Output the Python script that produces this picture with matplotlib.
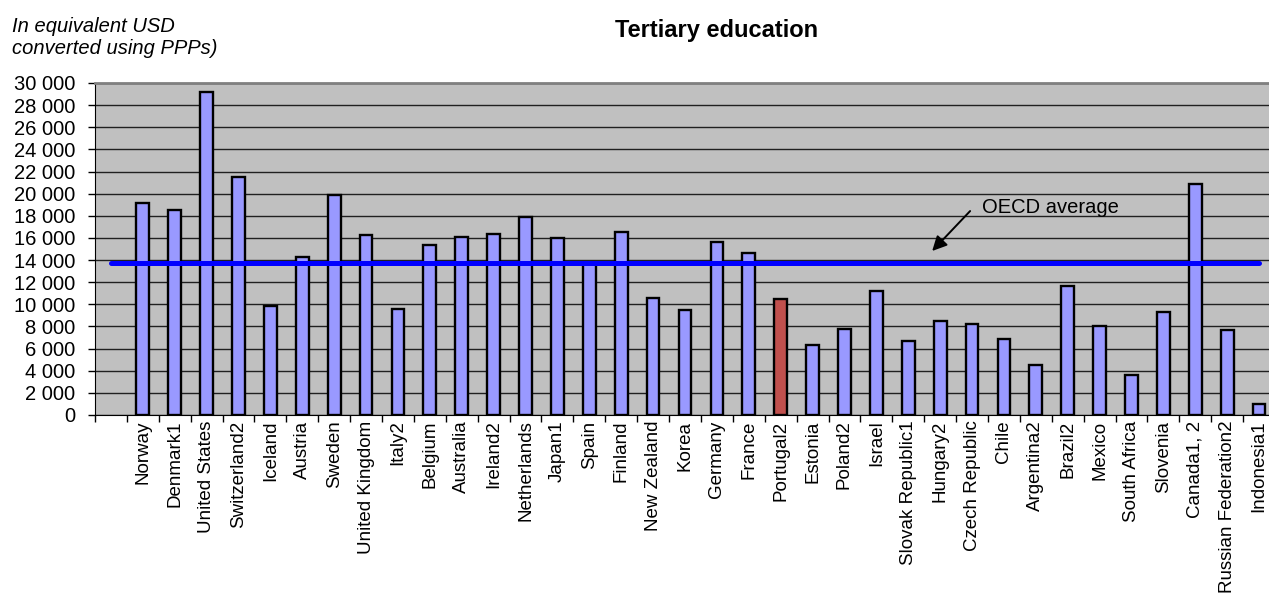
import numpy as np
import matplotlib.pyplot as plt
from matplotlib.ticker import FuncFormatter, FixedLocator

plt.rcParams['font.family'] = ['Liberation Sans', 'DejaVu Sans']

# Data #
countries = ['Norway', 'Denmark1', 'United States', 'Switzerland2', 'Iceland', 'Austria',
             'Sweden', 'United Kingdom', 'Italy2', 'Belgium', 'Australia', 'Ireland2',
             'Netherlands', 'Japan1', 'Spain', 'Finland', 'New Zealand', 'Korea', 'Germany',
             'France', 'Portugal2', 'Estonia', 'Poland2', 'Israel', 'Slovak Republic1',
             'Hungary2', 'Czech Republic', 'Chile', 'Argentina2', 'Brazil2', 'Mexico',
             'South Africa', 'Slovenia', 'Canada1, 2', 'Russian Federation2', 'Indonesia1']
spending = [19200, 18500, 29200, 21550, 9850, 14250, 19900, 16300, 9550, 15400, 16100,
            16400, 17850, 15950, 13600, 16550, 10600, 9500, 15650, 14600, 10450, 6350,
            7750, 11200, 6700, 8500, 8200, 6850, 4550, 11700, 8000, 3600, 9300, 20900,
            7700, 950]
oecd_average = 13700
highlight = 'Portugal2'

fig = plt.figure(figsize=(12.69, 5.96), dpi=100)
ax = fig.add_axes([95 / 1269, 1 - 415 / 596, 1180 / 1269, (415 - 83) / 596])
ax.set_facecolor('#C0C0C0')

# slot 0 is left blank, countries start at 1
x = np.arange(1, len(countries) + 1)
colors = ['#C0504D' if c == highlight else '#9999FF' for c in countries]
ax.bar(x, spending, width=0.4, color=colors, edgecolor='black', linewidth=1.7, zorder=2)

# OECD average line across all slots #
line_x = np.arange(0, len(countries) + 1)
ax.plot(line_x, [oecd_average] * len(line_x), color='#0000FF', linewidth=3.6,
        solid_capstyle='round', zorder=3)

ax.set_xlim(-0.5, len(countries) + 0.5)
ax.set_ylim(0, 30000)

# Grid #
ax.set_yticks(np.arange(0, 30001, 2000))
ax.yaxis.set_major_formatter(FuncFormatter(lambda v, p: '{:,}'.format(int(v)).replace(',', ' ')))
ax.grid(axis='y', color='#202020', linewidth=1.0, zorder=1)
ax.set_axisbelow(True)

ax.xaxis.set_major_locator(FixedLocator(x))
ax.set_xticklabels(countries, rotation=90, fontsize=13.5, va='top')
ax.xaxis.set_minor_locator(FixedLocator(np.arange(-0.5, len(countries) + 0.6, 1)))
ax.tick_params(axis='x', which='major', length=0, pad=4)
ax.tick_params(axis='x', which='minor', length=5, width=1, color='black', direction='out')
ax.tick_params(axis='y', length=5, width=1, labelsize=14.5, pad=9)

ax.spines['right'].set_visible(False)
ax.spines['top'].set_color('#808080')
ax.spines['top'].set_linewidth(2)
ax.spines['left'].set_color('black')
ax.spines['bottom'].set_color('black')

# Annotation #
ax.annotate('', xy=(25.75, 14820), xytext=(26.94, 18430),
            arrowprops=dict(arrowstyle='-|>', color='black', lw=1.4,
                            mutation_scale=22, shrinkA=0, shrinkB=0))
ax.text(27.31, 18750, 'OECD average', fontsize=14.5, ha='left', va='center')

fig.text(717 / 1269, 1 - 30 / 596, 'Tertiary education', fontsize=17,
         fontweight='bold', ha='center', va='center')
fig.text(12 / 1269, 1 - 17 / 596, 'In equivalent USD\nconverted using PPPs)',
         fontsize=14.5, style='italic', ha='left', va='top', linespacing=1.2)

plt.savefig('out.png', dpi=100)
